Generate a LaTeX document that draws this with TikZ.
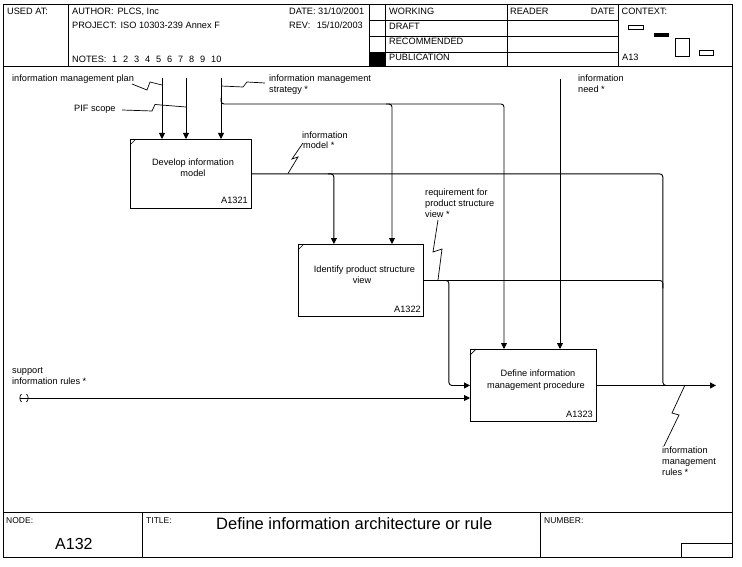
\documentclass[tikz,border=0pt]{standalone}
\usepackage{fontspec}
\setmainfont{Liberation Sans}
\usetikzlibrary{arrows.meta}
\begin{document}
\begin{tikzpicture}[x=1pt,y=-1pt,
  every node/.style={inner sep=0pt},
  lbl/.style={font=\fontsize{9.2}{11}\selectfont, anchor=base west},
  lblc/.style={font=\fontsize{9.2}{11}\selectfont, anchor=base},
  lble/.style={font=\fontsize{9.2}{11}\selectfont, anchor=base east},
  func/.style={draw, line width=0.9pt, anchor=north west},
  rule/.style={line width=0.9pt},
  conn/.style={line width=0.9pt, rounded corners=3pt},
  arr/.style={conn, -{Triangle[width=6pt,length=6pt]}},
  squig/.style={line width=0.7pt},
]
\useasboundingbox (0,0) rectangle (742,567);
\fill[white] (0,0) rectangle (742,567);

% ---------- frame and header ----------
\draw[rule] (3,4) rectangle (732,557);
\draw[rule] (3,66) -- (732,66);
\draw[rule] (68,4) -- (68,66);
\draw[rule] (369,4) -- (369,66);
\draw[rule] (385,4) -- (385,66);
\draw[rule] (507,4) -- (507,66);
\draw[rule] (618,4) -- (618,66);
\draw[rule] (369,20) -- (618,20);
\draw[rule] (369,36) -- (618,36);
\draw[rule] (369,52) -- (618,52);
\fill (369,52) rectangle (385,66);

\node[lbl] (usedat) at (7,15) {USED AT:};
\node[lbl] (author) at (72,15) {AUTHOR:\hspace{4pt}PLCS, Inc};
\node[lbl] (project) at (72,29) {PROJECT:\hspace{4pt}ISO 10303-239 Annex F};
\node[lbl] (notes) at (72,62.5) {NOTES:};
\foreach \nx/\nt [count=\i] in {112/1,123/2,134/3,145/4,156/5,167/6,178/7,189/8,200/9,211/10}
  \node[lbl] (note\i) at (\nx,62.5) {\nt};
\node[lbl] (datek) at (289,15) {DATE: 31/10/2001};
\node[lbl] (revk) at (289,29) {REV:};
\node[lble] (revv) at (363,29) {15/10/2003};

\node[lbl] (working) at (389,15) {WORKING};
\node[lbl] (draft) at (389,29.5) {DRAFT};
\node[lbl] (recom) at (389,45) {RECOMMENDED};
\node[lbl] (public) at (389,61) {PUBLICATION};
\node[lbl] (reader) at (510,15) {READER};
\node[lble] (rdate) at (615,15) {DATE};
\node[lbl] (context) at (621.5,15) {CONTEXT:};
\node[lbl] (ctxnode) at (622,61) {A13};
\draw[rule] (628,25) rectangle (643,29);
\fill (654,33) rectangle (669,37);
\draw[rule] (675,38) rectangle (689,56);
\draw[rule] (699,50) rectangle (713,55);

% ---------- footer ----------
\draw[rule] (3,512) -- (732,512);
\draw[rule] (142,512) -- (142,557);
\draw[rule] (540,512) -- (540,557);
\draw[rule] (681,543) -- (732,543);
\draw[rule] (681,543) -- (681,557);
\node[lbl, font=\fontsize{8.5}{10}\selectfont] (nodek) at (6,523) {NODE:};
\node[lbl, font=\fontsize{8.5}{10}\selectfont] (titlek) at (146,523) {TITLE:};
\node[lbl, font=\fontsize{8.5}{10}\selectfont] (numk) at (544,523) {NUMBER:};
\node[anchor=base west, font=\fontsize{16}{18}\selectfont] (nodev) at (55,549) {A132};
\node[anchor=base west, font=\fontsize{16.5}{18}\selectfont] (titlev) at (216,529) {Define information architecture or rule};

% ---------- activity boxes ----------
\node[func, minimum width=121pt, minimum height=69pt] (b1) at (130,139) {};
\node[func, minimum width=125pt, minimum height=72pt] (b2) at (298,244) {};
\node[func, minimum width=126pt, minimum height=72pt] (b3) at (470,349) {};
\foreach \b in {b1,b2,b3}
  \draw[squig] ([yshift=-6pt]\b.north west) -- ([xshift=6pt]\b.north west);

\node[lblc] (t1a) at (193,165.5) {Develop information};
\node[lblc] (t1b) at (193,176.5) {model};
\node[lble] (n1) at (248,204) {A1321};
\node[lblc] (t2a) at (364.5,272.5) {Identify product structure};
\node[lblc] (t2b) at (362,283) {view};
\node[lble] (n2) at (421,312) {A1322};
\node[lblc] (t3a) at (538,376.5) {Define information};
\node[lblc] (t3b) at (536,388) {management procedure};
\node[lble] (n3) at (593,417) {A1323};

% ---------- arrow labels ----------
\node[lbl] (lplan) at (12,82) {information management plan};
\node[lbl] (lpif) at (74,111.5) {PIF scope};
\node[lbl] (lstr1) at (269,82) {information management};
\node[lbl] (lstr2) at (269,92.5) {strategy *};
\node[lbl] (lmod1) at (302,138.5) {information};
\node[lbl] (lmod2) at (303,149) {model *};
\node[lbl] (lreq1) at (425,196) {requirement for};
\node[lbl] (lreq2) at (425,207) {product structure};
\node[lbl] (lreq3) at (425,218) {view *};
\node[lbl] (lneed1) at (578,82) {information};
\node[lbl] (lneed2) at (578,92.5) {need *};
\node[lbl] (lsup1) at (12,373.5) {support};
\node[lbl] (lsup2) at (12,384) {information rules *};
\node[lbl] (lrul1) at (662,453.5) {information};
\node[lbl] (lrul2) at (662,464.5) {management};
\node[lbl] (lrul3) at (662,475.5) {rules *};

% ---------- connectors ----------
\coordinate (pPlan) at (162,78);
\coordinate (pPIF) at (186,78);
\coordinate (pStr) at (221,78);
\coordinate (pNeed) at (560,79);
\draw[arr] (pPlan) -- (pPlan |- b1.north);
\draw[arr] (pPIF) -- (pPIF |- b1.north);
\draw[arr] (pStr) -- (pStr |- b1.north);

\coordinate (sBr) at (221,104);
\coordinate (sA) at (392,104);
\coordinate (sB) at (504,104);
\draw[arr] ([yshift=6pt]sBr) -- (sBr) -- (sA) -- (sA |- b2.north);
\draw[arr] ([xshift=-6pt]sA) -- (sB) -- (sB |- b3.north);

\coordinate (m1) at ([xshift=82pt]b1.east);
\coordinate (j1) at ([xshift=411pt]b1.east);
\coordinate (j1b) at (j1 |- b3.east);
\draw[arr] (b1.east) -- (m1) -- (m1 |- b2.north);
\draw[conn] ([xshift=-6pt]m1) -- (j1) -- (j1b) -- ([xshift=8pt]j1b);

\coordinate (m2) at ([xshift=25pt]b2.east);
\coordinate (m2b) at (m2 |- b3.east);
\coordinate (j2) at (b2.east -| j1);
\draw[arr] (b2.east) -- (m2) -- (m2b) -- (m2b -| b3.west);
\draw[conn] ([xshift=-6pt]m2) -- (j2) -- ([yshift=-8pt]j2);

\draw[arr] (pNeed) -- (pNeed |- b3.north);

\coordinate (pSup) at (20,398);
\draw[arr] (pSup) -- (pSup -| b3.west);
\draw[squig] (21.5,394) .. controls (19.3,396) and (19.3,400) .. (21.5,402);
\draw[squig] (26.5,394) .. controls (28.7,396) and (28.7,400) .. (26.5,402);

\coordinate (pOut) at (716,385);
\draw[arr] (b3.east) -- (b3.east -| pOut);

% ---------- squiggles ----------
\draw[squig] (132,84) -- (147,90) -- (150,82) -- (pPlan |- 0,85);
\draw[squig] (122,110) -- (152,111) -- (155,104.5) -- (pPIF |- 0,107);
\draw[squig] (pStr |- 0,86) -- (243,87) -- (247,82) -- (265,83);
\draw[squig] (288,173.5) -- (298,157) -- (292,159) -- (303,143);
\draw[squig] (438,280) -- (442,249) -- (433,252) -- (438,220);
\draw[squig] (685,385) -- (672,413) -- (679,415) -- (664,446);
\end{tikzpicture}
\end{document}
